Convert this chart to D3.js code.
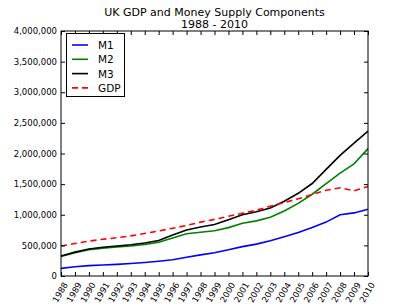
<!DOCTYPE html>
<html><head><meta charset="utf-8">
<script src="https://cdn.jsdelivr.net/npm/d3@7"></script>
<style>body{margin:0;background:#fff}svg{display:block}text{font-family:"DejaVu Sans",sans-serif}</style>
</head><body><svg id="c" width="409" height="307"></svg>
<script>
const years = d3.range(1988, 2011);
const m1 = [125000,150000,170000,180000,190000,205000,220000,240000,265000,305000,345000,380000,430000,480000,520000,575000,640000,710000,790000,880000,1000000,1030000,1090000];
const m2 = [320000,380000,430000,455000,475000,490000,515000,550000,620000,690000,715000,740000,790000,860000,900000,960000,1060000,1185000,1335000,1510000,1680000,1830000,2080000];
const m3 = [325000,390000,440000,470000,490000,510000,540000,580000,670000,750000,800000,840000,920000,1000000,1050000,1110000,1220000,1350000,1510000,1740000,1970000,2170000,2365000];
const gdp = [490000,530000,570000,600000,625000,655000,695000,735000,780000,825000,880000,925000,975000,1025000,1075000,1140000,1200000,1260000,1330000,1400000,1440000,1390000,1460000];
const yTicks = [0,500000,1000000,1500000,2000000,2500000,3000000,3500000,4000000];
const seriesNames = ["M1","M2","M3","GDP"];
const seriesData = [m1,m2,m3,gdp];
const colors = ["#0000ff","#008000","#000000","#ff0000"];
const dashes = [null,null,null,"6,4"];

const svg = d3.select("#c");
const L=61,R=368,T=31,B=276;
const x = d3.scaleLinear().domain([1988,2010]).range([L,R]);
const y = d3.scaleLinear().domain([0,4000000]).range([B,T]);

svg.append("text").attr("x",(L+R)/2).attr("y",16).attr("text-anchor","middle").attr("font-size",11).text("UK GDP and Money Supply Components");
svg.append("text").attr("x",(L+R)/2).attr("y",27.5).attr("text-anchor","middle").attr("font-size",11).text("1988 - 2010");

const line = d3.line().x((d,i)=>x(years[i])).y(d=>y(d));
const plot = svg.append("g");
seriesData.forEach((s,k)=>{
  plot.append("path").attr("d",line(s)).attr("fill","none").attr("stroke",colors[k]).attr("stroke-width",1.6).attr("stroke-dasharray",dashes[k]);
});

const fmt = d3.format(",");
const yl = svg.append("g").attr("transform",`translate(${L},0)`).call(d3.axisLeft(y).tickValues(yTicks).tickFormat(fmt).tickSizeInner(-4).tickSizeOuter(0).tickPadding(4));
const yr = svg.append("g").attr("transform",`translate(${R},0)`).call(d3.axisRight(y).tickValues(yTicks).tickFormat("").tickSizeInner(-4).tickSizeOuter(0));
const xb = svg.append("g").attr("transform",`translate(0,${B})`).call(d3.axisBottom(x).tickValues(years).tickFormat(d3.format("d")).tickSizeInner(-4).tickSizeOuter(0).tickPadding(3));
const xt = svg.append("g").attr("transform",`translate(0,${T})`).call(d3.axisTop(x).tickValues(years).tickFormat("").tickSizeInner(-4).tickSizeOuter(0));
[yl,yr,xb,xt].forEach(g=>{g.select(".domain").remove();g.selectAll("line").attr("stroke","#000");g.selectAll("text").attr("font-size",8.5).attr("fill","#000").attr("font-family","DejaVu Sans");});
xb.selectAll("text").attr("text-anchor","end").attr("dy","0").attr("transform","translate(4,7) rotate(-60)");
svg.append("rect").attr("x",L).attr("y",T).attr("width",R-L).attr("height",B-T).attr("fill","none").attr("stroke","#000").attr("stroke-width",1);

const lg = svg.append("g");
lg.append("rect").attr("x",66.5).attr("y",33.5).attr("width",58).attr("height",63).attr("fill","#fff").attr("stroke","#000").attr("stroke-width",1);
seriesNames.forEach((n,k)=>{
  const yy = 45 + k*14.3;
  lg.append("line").attr("x1",72).attr("x2",88).attr("y1",yy).attr("y2",yy).attr("stroke",colors[k]).attr("stroke-width",1.6).attr("stroke-dasharray",dashes[k]);
  lg.append("text").attr("x",98).attr("y",yy+4).attr("font-size",10.5).text(n);
});
</script></body></html>
